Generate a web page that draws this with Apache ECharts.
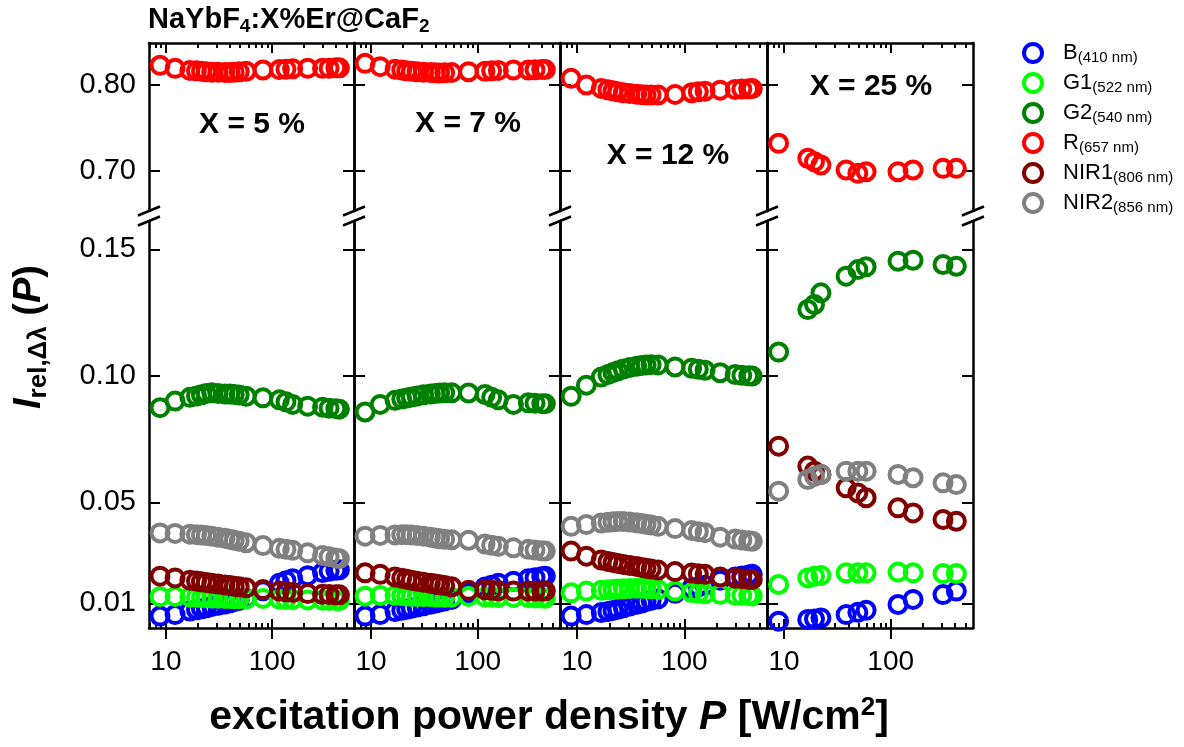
<!DOCTYPE html>
<html>
<head>
<meta charset="utf-8">
<script src="https://cdn.jsdelivr.net/npm/echarts@6/dist/echarts.min.js"></script>
<style>
  html, body { margin: 0; padding: 0; background: #fff; }
  #chart { width: 1184px; height: 747px; }
</style>
</head>
<body>
<div id="chart"></div>
<script>
// excitation power density P [W/cm2]
const powerA = [8.8, 12.2, 16.8, 19.4, 21.6, 24, 27, 31, 36, 40, 44, 49, 57, 82, 117, 135, 156, 216, 298, 344, 398, 430];
const power25 = [8.9, 16.7, 19.3, 22.2, 38.2, 49.2, 58.8, 117, 162, 309, 412];

// X = 5 %
const x5B    = [0.0050, 0.0056, 0.0070, 0.0075, 0.0079, 0.0083, 0.0088, 0.0093, 0.0098, 0.0103, 0.0107, 0.0112, 0.0120, 0.0150, 0.0180, 0.0190, 0.0198, 0.0210, 0.0222, 0.0227, 0.0231, 0.0233];
const x5G1   = [0.0127, 0.0128, 0.0126, 0.0125, 0.0124, 0.0123, 0.0122, 0.0121, 0.0120, 0.0120, 0.0119, 0.0119, 0.0118, 0.0120, 0.0117, 0.0116, 0.0115, 0.0114, 0.0113, 0.0112, 0.0112, 0.0111];
const x5G2   = [0.0874, 0.0900, 0.0915, 0.0920, 0.0925, 0.0930, 0.0933, 0.0930, 0.0928, 0.0928, 0.0926, 0.0924, 0.0919, 0.0913, 0.0905, 0.0897, 0.0887, 0.0880, 0.0876, 0.0872, 0.0870, 0.0868];
const x5R    = [0.8230, 0.8195, 0.8170, 0.8165, 0.8160, 0.8155, 0.8150, 0.8148, 0.8145, 0.8145, 0.8150, 0.8155, 0.8160, 0.8175, 0.8180, 0.8185, 0.8190, 0.8195, 0.8195, 0.8195, 0.8200, 0.8200];
const x5NIR1 = [0.0208, 0.0201, 0.0192, 0.0189, 0.0186, 0.0183, 0.0180, 0.0177, 0.0173, 0.0171, 0.0168, 0.0166, 0.0162, 0.0155, 0.0149, 0.0146, 0.0143, 0.0139, 0.0136, 0.0135, 0.0134, 0.0134];
const x5NIR2 = [0.0379, 0.0377, 0.0374, 0.0372, 0.0371, 0.0369, 0.0366, 0.0362, 0.0358, 0.0354, 0.0350, 0.0346, 0.0340, 0.0329, 0.0318, 0.0314, 0.0310, 0.0300, 0.0290, 0.0285, 0.0280, 0.0277];

// X = 7 %
const x7B    = [0.0050, 0.0056, 0.0068, 0.0073, 0.0077, 0.0081, 0.0086, 0.0091, 0.0097, 0.0102, 0.0106, 0.0110, 0.0116, 0.0142, 0.0165, 0.0172, 0.0180, 0.0188, 0.0198, 0.0202, 0.0206, 0.0208];
const x7G1   = [0.0129, 0.0131, 0.0132, 0.0131, 0.0130, 0.0129, 0.0128, 0.0127, 0.0127, 0.0126, 0.0126, 0.0125, 0.0125, 0.0128, 0.0126, 0.0125, 0.0124, 0.0124, 0.0123, 0.0122, 0.0122, 0.0121];
const x7G2   = [0.0857, 0.0887, 0.0903, 0.0908, 0.0912, 0.0916, 0.0920, 0.0925, 0.0928, 0.0930, 0.0932, 0.0933, 0.0933, 0.0932, 0.0926, 0.0915, 0.0905, 0.0887, 0.0893, 0.0892, 0.0890, 0.0890];
const x7R    = [0.8253, 0.8214, 0.8185, 0.8175, 0.8165, 0.8160, 0.8155, 0.8150, 0.8145, 0.8142, 0.8140, 0.8142, 0.8145, 0.8155, 0.8160, 0.8165, 0.8170, 0.8175, 0.8175, 0.8178, 0.8180, 0.8180];
const x7NIR1 = [0.0221, 0.0215, 0.0205, 0.0200, 0.0196, 0.0192, 0.0188, 0.0184, 0.0180, 0.0177, 0.0174, 0.0171, 0.0166, 0.0152, 0.0154, 0.0152, 0.0150, 0.0149, 0.0149, 0.0149, 0.0149, 0.0150];
const x7NIR2 = [0.0366, 0.0369, 0.0371, 0.0372, 0.0372, 0.0371, 0.0369, 0.0366, 0.0362, 0.0359, 0.0356, 0.0354, 0.0352, 0.0350, 0.0335, 0.0330, 0.0326, 0.0320, 0.0314, 0.0311, 0.0308, 0.0307];

// X = 12 %
const x12B    = [0.0050, 0.0056, 0.0064, 0.0068, 0.0072, 0.0077, 0.0083, 0.0090, 0.0097, 0.0102, 0.0107, 0.0112, 0.0118, 0.0140, 0.0160, 0.0166, 0.0172, 0.0192, 0.0205, 0.0209, 0.0213, 0.0215];
const x12G1   = [0.0142, 0.0149, 0.0152, 0.0154, 0.0155, 0.0157, 0.0158, 0.0159, 0.0160, 0.0160, 0.0159, 0.0158, 0.0155, 0.0149, 0.0143, 0.0140, 0.0138, 0.0136, 0.0133, 0.0132, 0.0131, 0.0130];
const x12G2   = [0.0919, 0.0963, 0.0995, 0.1005, 0.1013, 0.1020, 0.1027, 0.1033, 0.1038, 0.1041, 0.1043, 0.1044, 0.1043, 0.1035, 0.1030, 0.1026, 0.1022, 0.1012, 0.1005, 0.1002, 0.1000, 0.0999];
const x12R    = [0.8078, 0.8000, 0.7960, 0.7945, 0.7932, 0.7920, 0.7910, 0.7900, 0.7892, 0.7887, 0.7884, 0.7883, 0.7883, 0.7890, 0.7910, 0.7920, 0.7928, 0.7940, 0.7948, 0.7952, 0.7955, 0.7958];
const x12NIR1 = [0.0307, 0.0287, 0.0272, 0.0266, 0.0262, 0.0258, 0.0254, 0.0250, 0.0246, 0.0242, 0.0239, 0.0236, 0.0232, 0.0226, 0.0220, 0.0217, 0.0215, 0.0205, 0.0200, 0.0198, 0.0196, 0.0195];
const x12NIR2 = [0.0405, 0.0412, 0.0418, 0.0421, 0.0423, 0.0424, 0.0424, 0.0422, 0.0419, 0.0416, 0.0413, 0.0410, 0.0405, 0.0396, 0.0388, 0.0384, 0.0380, 0.0362, 0.0355, 0.0351, 0.0348, 0.0346];

// X = 25 %
const x25B    = [0.0030, 0.0037, 0.0039, 0.0043, 0.0056, 0.0065, 0.0073, 0.0096, 0.0116, 0.0135, 0.0149];
const x25G1   = [0.0175, 0.0201, 0.0208, 0.0211, 0.0221, 0.0221, 0.0221, 0.0224, 0.0221, 0.0218, 0.0218];
const x25G2   = [0.1094, 0.1262, 0.1282, 0.1328, 0.1394, 0.1420, 0.1431, 0.1453, 0.1457, 0.1440, 0.1433];
const x25R    = [0.7320, 0.7145, 0.7105, 0.7067, 0.7008, 0.6970, 0.6988, 0.6988, 0.7008, 0.7028, 0.7028];
const x25NIR1 = [0.0722, 0.0643, 0.0623, 0.0610, 0.0557, 0.0537, 0.0518, 0.0478, 0.0458, 0.0432, 0.0425];
const x25NIR2 = [0.0544, 0.0590, 0.0603, 0.0610, 0.0623, 0.0623, 0.0623, 0.0610, 0.0597, 0.0577, 0.0570];

const bandNames = ['B', 'G1', 'G2', 'R', 'NIR1', 'NIR2'];
const bandWaves = ['(410 nm)', '(522 nm)', '(540 nm)', '(657 nm)', '(806 nm)', '(856 nm)'];
const bandColors = ['#0000ff', '#00ff00', '#008000', '#ff0000', '#800000', '#808080'];

const panelLabels = ['X = 5 %', 'X = 7 %', 'X = 12 %', 'X = 25 %'];
const xMajor = [10, 100];
const xMinor = [7, 8, 9, 20, 30, 40, 50, 60, 70, 80, 90, 200, 300, 400, 500];
const yTopTicks = [0.70, 0.80];
const yBottomTicks = [0.01, 0.05, 0.10, 0.15];

const panels = [
  { power: powerA,  B: x5B,  G1: x5G1,  G2: x5G2,  R: x5R,  NIR1: x5NIR1,  NIR2: x5NIR2 },
  { power: powerA,  B: x7B,  G1: x7G1,  G2: x7G2,  R: x7R,  NIR1: x7NIR1,  NIR2: x7NIR2 },
  { power: powerA,  B: x12B, G1: x12G1, G2: x12G2, R: x12R, NIR1: x12NIR1, NIR2: x12NIR2 },
  { power: power25, B: x25B, G1: x25G1, G2: x25G2, R: x25R, NIR1: x25NIR1, NIR2: x25NIR2 }
];

const FONT = "'Liberation Sans', Arial, sans-serif";
const edges = [149, 354, 560, 767, 973];
const topBox = { top: 43, bottom: 211 };
const botBox = { top: 221, bottom: 628 };
const xMin = 6.93, xMax = 590;
const frame = { color: '#000', width: 2.5 };

const grid = [], xAxis = [], yAxis = [], series = [];

function xAx(gridIndex, position, extra) {
  return Object.assign({
    type: 'log', logBase: 10, gridIndex: gridIndex, position: position,
    min: xMin, max: xMax,
    splitLine: { show: false },
    axisLine: { show: false },
    axisTick: { show: false },
    axisLabel: { show: false }
  }, extra);
}

function yAx(gridIndex, position, range, ticks, showLabel) {
  return {
    type: 'value', gridIndex: gridIndex, position: position,
    min: range[0], max: range[1],
    splitLine: { show: false },
    axisLine: { show: true, lineStyle: frame },
    axisTick: { show: true, inside: true, length: 11, customValues: ticks, lineStyle: { width: 2, color: '#000' } },
    axisLabel: {
      show: showLabel, customValues: ticks, margin: 13,
      fontFamily: FONT, fontSize: 29, color: '#000',
      formatter: v => v.toFixed(2)
    }
  };
}

panels.forEach((pn, p) => {
  const left = edges[p], width = edges[p + 1] - edges[p];
  grid.push({ left: left, width: width, top: topBox.top, height: topBox.bottom - topBox.top });
  grid.push({ left: left, width: width, top: botBox.top, height: botBox.bottom - botBox.top });
  const gT = p * 2, gB = p * 2 + 1;

  // top frame: major + minor ticks pointing in
  xAxis.push(xAx(gT, 'top', {
    axisLine: { show: true, lineStyle: frame },
    axisTick: { show: true, inside: true, length: 10, customValues: xMajor, lineStyle: { width: 2, color: '#000' } }
  }));
  xAxis.push(xAx(gT, 'top', {
    axisTick: { show: true, inside: true, length: 5, customValues: xMinor, lineStyle: { width: 2, color: '#000' } }
  }));
  // bottom frame: labels, major ticks crossing, minor ticks in
  xAxis.push(xAx(gB, 'bottom', {
    axisLine: { show: true, lineStyle: frame },
    axisTick: { show: true, inside: false, length: 11, customValues: xMajor, lineStyle: { width: 2, color: '#000' } },
    axisLabel: { show: true, customValues: xMajor, margin: 20, fontFamily: FONT, fontSize: 28, color: '#000' }
  }));
  xAxis.push(xAx(gB, 'bottom', {
    axisTick: { show: true, inside: true, length: 9, customValues: xMajor, lineStyle: { width: 2, color: '#000' } }
  }));
  xAxis.push(xAx(gB, 'bottom', {
    axisTick: { show: true, inside: true, length: 5, customValues: xMinor, lineStyle: { width: 2, color: '#000' } }
  }));

  yAxis.push(yAx(gT, 'left', [0.653, 0.849], yTopTicks, p === 0));
  yAxis.push(yAx(gT, 'right', [0.653, 0.849], yTopTicks, false));
  yAxis.push(yAx(gB, 'left', [0.0003, 0.1612], yBottomTicks, p === 0));
  yAxis.push(yAx(gB, 'right', [0.0003, 0.1612], yBottomTicks, false));

  bandNames.forEach((nm, i) => {
    const isTop = nm === 'R';
    series.push({
      type: 'scatter', name: nm,
      xAxisIndex: p * 5 + (isTop ? 0 : 2),
      yAxisIndex: p * 4 + (isTop ? 0 : 2),
      data: pn.power.map((x, j) => [x, pn[nm][j]]),
      symbol: 'circle', symbolSize: 17,
      itemStyle: { color: 'rgba(255,255,255,0)', borderColor: bandColors[i], borderWidth: 4, opacity: 1 },
      clip: false
    });
  });
});

// axis break marks and texts
const graphic = [];
edges.forEach(x => {
  [topBox.bottom, botBox.top].forEach(y => {
    graphic.push({ type: 'line', shape: { x1: x - 11, y1: y + 4.5, x2: x + 11, y2: y - 4.5 },
      style: { stroke: '#000', lineWidth: 2.5 }, z: 10 });
  });
});

const labelPos = [[252, 125], [468, 124], [668, 156], [871, 87]];
panelLabels.forEach((t, i) => {
  graphic.push({ type: 'text', x: labelPos[i][0], y: labelPos[i][1], z: 10,
    style: { text: t, font: 'bold 30px ' + FONT, fill: '#000', align: 'center', verticalAlign: 'middle' } });
});

graphic.push({ type: 'text', x: 148, y: 20, z: 10,
  style: {
    text: '{b|NaYbF}{s|4}{b|:X%Er@CaF}{s|2}',
    align: 'left', verticalAlign: 'middle',
    rich: {
      b: { font: 'bold 29px ' + FONT, fill: '#000', lineHeight: 32 },
      s: { font: 'bold 19px ' + FONT, fill: '#000', lineHeight: 12, verticalAlign: 'bottom' }
    }
  } });

graphic.push({ type: 'text', x: 549, y: 718, z: 10,
  style: {
    text: '{b|excitation power density }{i|P}{b| [W/cm}{u|2}{b|]}',
    align: 'center', verticalAlign: 'middle',
    rich: {
      b: { font: 'bold 41px ' + FONT, fill: '#000', lineHeight: 46 },
      i: { font: 'italic bold 41px ' + FONT, fill: '#000', lineHeight: 46 },
      u: { font: 'bold 26px ' + FONT, fill: '#000', lineHeight: 20, verticalAlign: 'top' }
    }
  } });

graphic.push({ type: 'text', x: 30, y: 337, rotation: Math.PI / 2, z: 10,
  style: {
    text: '{i|I}{s|rel,\u0394\u03bb}{b| (}{i|P}{b|)}',
    align: 'center', verticalAlign: 'middle',
    rich: {
      i: { font: 'italic bold 38px ' + FONT, fill: '#000', lineHeight: 44 },
      b: { font: 'bold 38px ' + FONT, fill: '#000', lineHeight: 44 },
      s: { font: 'bold 26px ' + FONT, fill: '#000', lineHeight: 18, verticalAlign: 'bottom' }
    }
  } });

const chart = echarts.init(document.getElementById('chart'), null, { renderer: 'canvas' });
chart.setOption({
  animation: false,
  backgroundColor: '#fff',
  grid: grid,
  xAxis: xAxis,
  yAxis: yAxis,
  legend: {
    orient: 'vertical', left: 1017, top: 37,
    itemWidth: 50, itemHeight: 18, itemGap: 7,
    data: bandNames,
    itemStyle: { borderWidth: 4 },
    formatter: n => '{m|' + n + '}{s|' + bandWaves[bandNames.indexOf(n)] + '}',
    textStyle: {
      color: '#000',
      rich: {
        m: { fontFamily: FONT, fontSize: 22, lineHeight: 24, color: '#000' },
        s: { fontFamily: FONT, fontSize: 15, lineHeight: 12, verticalAlign: 'bottom', color: '#000' }
      }
    }
  },
  graphic: graphic,
  series: series
});
</script>
</body>
</html>
